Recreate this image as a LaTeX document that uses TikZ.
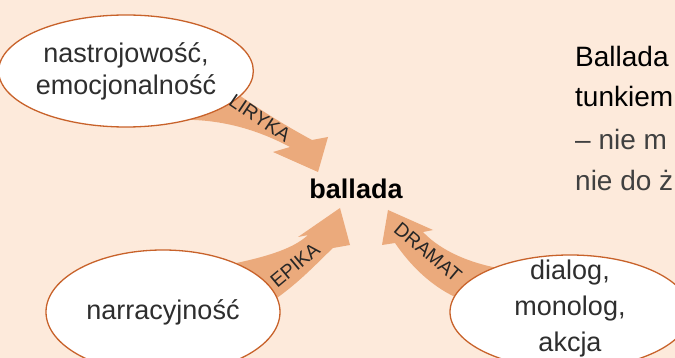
\documentclass[tikz,border=0pt]{standalone}
\usepackage{fontspec}
\setmainfont{Liberation Sans}
\usetikzlibrary{shapes.geometric}
\definecolor{bgpeach}{HTML}{FDEADB}
\definecolor{arrowtan}{HTML}{EBAA7C}
\definecolor{rimbrown}{HTML}{C8622A}
\definecolor{inkgrey}{HTML}{2E2E2E}
\tikzset{
  bubble/.style={ellipse, draw=rimbrown, line width=1.3pt, fill=white,
    inner sep=0pt, align=center, text=inkgrey},
  kind/.style={text=black!85, inner sep=0pt, font=\fontsize{19.5}{19.5}\selectfont},
  broad/.style={fill=arrowtan},
  sideline/.style={anchor=base west, inner sep=0pt, font=\fontsize{28}{28}\selectfont}
}
\begin{document}
\begin{tikzpicture}[x=1pt,y=-1pt]
\useasboundingbox (0,0) rectangle (675,358);
\clip (0,0) rectangle (675,358);
\fill[bgpeach] (0,0) rectangle (675,358);
% broad arrows, tails hidden under the bubbles
\fill[broad] (200,100) -- (225,85) .. controls (262,112) and (290,128) .. (312,140)
  -- (328,137) -- (318,172) -- (273,152) -- (290,147)
  .. controls (258,130) and (220,118) .. (175,120) -- cycle;
\fill[broad] (240,290) -- (222,266) .. controls (262,258) and (292,250) .. (308,235)
  -- (298,237) -- (340,208) -- (350,245) -- (333,248)
  .. controls (318,262) and (300,282) .. (274,300) -- cycle;
\fill[broad] (500,290) -- (510,270) .. controls (480,266) and (445,255) .. (423,232)
  -- (433,230) -- (388,210) -- (382,245) -- (395,243)
  .. controls (410,265) and (430,285) .. (455,297) -- cycle;
% bubbles
\node[bubble, minimum width=232pt, minimum height=112pt,
  font=\fontsize{27}{32}\selectfont] (mood) at (126,71) {nastrojowość,\\emocjonalność};
\node[bubble, minimum width=234pt, minimum height=124pt,
  font=\fontsize{27}{32}\selectfont] (story) at (163,312) {narracyjność};
\node[bubble, minimum width=240pt, minimum height=114pt,
  font=\fontsize{27}{36}\selectfont] (speech) at (570,312) {};
\node[text=inkgrey, align=center, font=\fontsize{27}{36}\selectfont]
  (speechtext) at (570,309) {dialog,\\monolog,\\akcja};
% genre labels
\node[kind, rotate=-34] (liryka) at (260,118) {LIRYKA};
\node[kind, rotate=40] (epika) at (295,265) {EPIKA};
\node[kind, rotate=-40] (dramat) at (428,252) {DRAMAT};
\node[font=\bfseries\fontsize{27}{27}\selectfont] (ballada) at (356,189) {ballada};
% text on the right
\node[sideline, text=black] (line1) at (575,67) {Ballada};
\node[sideline, text=black] (line2) at (575,107) {tunkiem};
\node[sideline, text=black!75] (line3) at (575,150) {– nie m};
\node[sideline, text=black!75] (line4) at (575,191) {nie do ż};
\end{tikzpicture}
\end{document}
